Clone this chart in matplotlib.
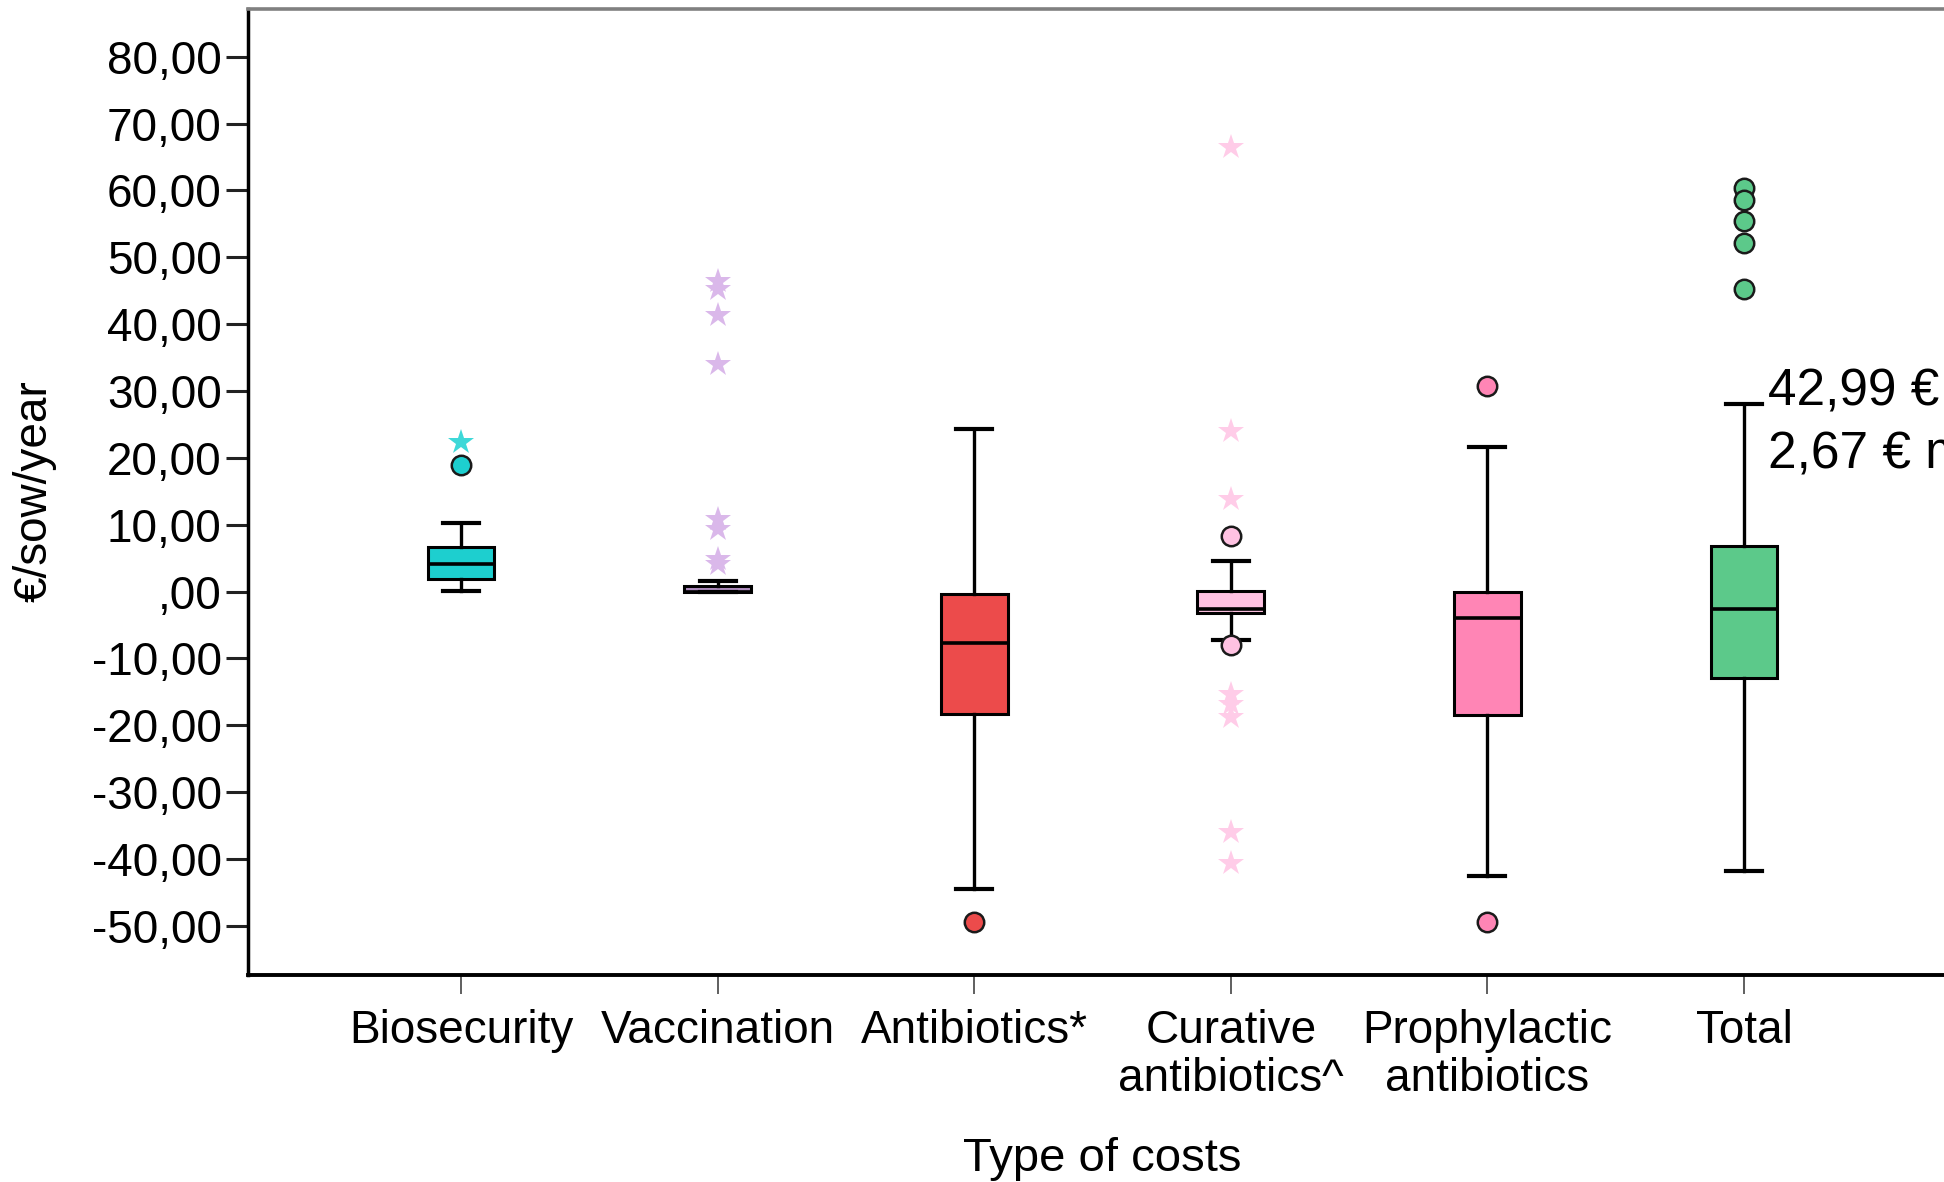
import matplotlib
matplotlib.use("Agg")
import matplotlib.pyplot as plt

plt.rcParams['font.family'] = ['Liberation Sans', 'DejaVu Sans']

# cost categories, one box each
categories = ['Biosecurity', 'Vaccination', 'Antibiotics*', 'Curative\nantibiotics^',
              'Prophylactic\nantibiotics', 'Total']
box_colors = ['#1DCFCF', '#B08CC0', '#EC4B4B', '#FFC2E2', '#FF85B5', '#5CC98A']
star_colors = ['#3ED8D8', '#DAB8EA', '#EC4B4B', '#FFCCE8', '#FF85B5', '#5CC98A']

# box statistics (€/sow/year)
whisker_low = [0.1, 0.0, -44.5, -7.2, -42.5, -41.8]
quartile_1 = [1.9, 0.0, -18.3, -3.2, -18.5, -13.0]
medians = [4.1, 0.0, -7.7, -2.6, -3.9, -2.6]
quartile_3 = [6.7, 0.8, -0.4, 0.1, 0.0, 6.8]
whisker_high = [10.3, 1.5, 24.3, 4.6, 21.6, 28.1]

# outliers (circles) and extreme values (stars)
outliers = [
    [19.0],
    [],
    [-49.4],
    [8.3, -8.0],
    [30.7, -49.4],
    [60.3, 58.6, 55.5, 52.2, 45.3],
]
extremes = [
    [22.4],
    [46.4, 45.2, 41.4, 34.0, 10.8, 9.3, 4.8, 4.1],
    [],
    [66.5, 24.0, 13.8, -15.4, -16.9, -18.8, -36.0, -40.6],
    [],
    [],
]

y_ticks = [-50, -40, -30, -20, -10, 0, 10, 20, 30, 40, 50, 60, 70, 80]
y_tick_labels = ['-50,00', '-40,00', '-30,00', '-20,00', '-10,00', ',00', '10,00',
                 '20,00', '30,00', '40,00', '50,00', '60,00', '70,00', '80,00']

notes = ['42,99 € mean', '2,67 € median']

W, H = 1944, 1182
fig = plt.figure(figsize=(W / 100, H / 100), dpi=100)
# the plot frame runs past the right edge of the figure
left, right, top, bottom = 248, 1957, 8.7, 974.5
ax = fig.add_axes([left / W, 1 - bottom / H, (right - left) / W, (bottom - top) / H])

positions = list(range(len(categories)))
stats = []
for i in positions:
    stats.append(dict(whislo=whisker_low[i], q1=quartile_1[i], med=medians[i],
                      q3=quartile_3[i], whishi=whisker_high[i], fliers=[]))

parts = ax.bxp(stats, positions=positions, widths=0.26, capwidths=0.14,
               patch_artist=True, showfliers=False,
               boxprops=dict(linewidth=2.2, edgecolor='black'),
               medianprops=dict(color='black', linewidth=2.6),
               whiskerprops=dict(color='black', linewidth=2.4),
               capprops=dict(color='black', linewidth=3.0))
for patch, c in zip(parts['boxes'], box_colors):
    patch.set_facecolor(c)

for i in positions:
    if extremes[i]:
        ax.plot([i] * len(extremes[i]), extremes[i], linestyle='none', marker='*',
                markersize=19, color=star_colors[i], markeredgewidth=0, zorder=3)
    if outliers[i]:
        ax.plot([i] * len(outliers[i]), outliers[i], linestyle='none', marker='o',
                markersize=14, markerfacecolor=box_colors[i],
                markeredgecolor='#1a1a1a', markeredgewidth=1.8, zorder=4)

ax.set_xlim(-0.83, 5.83)
ax.set_ylim(-57.3, 87.2)

ax.set_yticks(y_ticks)
ax.set_yticklabels(y_tick_labels)
ax.set_xticks(positions)
ax.set_xticklabels(categories, linespacing=1.1)

ax.tick_params(axis='y', labelsize=33, length=16, width=2.2, pad=3, color='#222222')
ax.tick_params(axis='x', labelsize=33, length=14, width=1.2, pad=11, color='#444444')

ax.spines['left'].set_linewidth(2.5)
ax.spines['bottom'].set_linewidth(2.8)
ax.spines['top'].set_color('#808080')
ax.spines['top'].set_linewidth(2.6)
ax.spines['right'].set_visible(False)

ax.set_ylabel('€/sow/year', fontsize=33)
ax.yaxis.set_label_coords(-0.112, 0.5)
ax.set_xlabel('Type of costs', fontsize=34)
ax.xaxis.set_label_coords(0.5, -0.168)

ax.text(5.095, 27.9, notes[0], fontsize=37, va='baseline', ha='left', clip_on=False)
ax.text(5.095, 18.5, notes[1], fontsize=37, va='baseline', ha='left', clip_on=False)

fig.savefig('out.png', dpi=100)
